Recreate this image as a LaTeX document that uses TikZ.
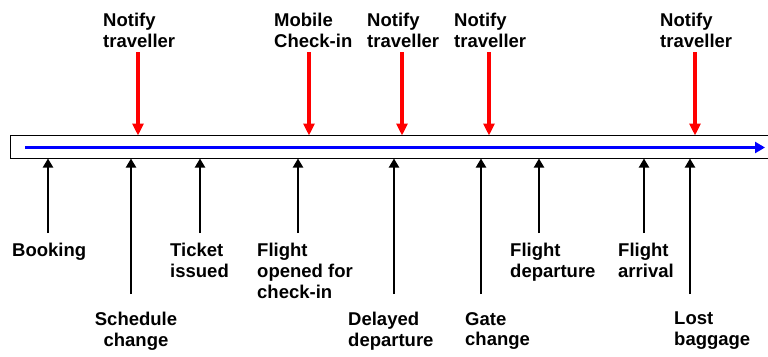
\documentclass[tikz,border=0pt]{standalone}
\usepackage{fontspec}
\setmainfont{Liberation Sans}
\usetikzlibrary{arrows.meta}
\begin{document}
\begin{tikzpicture}[x=1pt,y=-1pt,
  lbl/.style={inner sep=0pt, anchor=north west, align=left,
    font=\bfseries\fontsize{18.5}{20.8}\selectfont},
  notify/.style={draw=red, line width=4.5pt,
    -{Triangle[width=11pt,length=12pt]}},
  event/.style={draw=black, line width=2pt,
    -{Triangle[width=10pt,length=9pt]}},
  timeline/.style={draw=blue, line width=3.2pt,
    -{Triangle[width=11pt,length=10pt]}}]
  \useasboundingbox (0,0) rectangle (768,356);

  % time bar
  \draw[line width=1pt] (10,135) rectangle (780,158);
  \coordinate (tstart) at (25,147.5);
  \coordinate (tend) at (765,147.5);
  \draw[timeline] (tstart) -- (tend);

  % notifications from above
  \node[lbl] (n1) at (103,13) {Notify\\traveller};
  \node[lbl] (n2) at (274,13) {Mobile\\Check-in};
  \node[lbl] (n3) at (367,13) {Notify\\traveller};
  \node[lbl] (n4) at (454,13) {Notify\\traveller};
  \node[lbl] (n5) at (660,13) {Notify\\traveller};
  \foreach \i/\x in {1/138,2/309,3/402,4/489,5/695}{
    \coordinate (ns\i) at (\x,52);
    \coordinate (nt\i) at (\x,135.5);
    \draw[notify] (ns\i) -- (nt\i);
  }

  % events from below
  \node[lbl] (e1) at (12,243) {Booking};
  \node[lbl, anchor=north, align=center] (e2) at (136,312) {Schedule\\change};
  \node[lbl] (e3) at (170,243) {Ticket\\issued};
  \node[lbl] (e4) at (257,243) {Flight\\opened for\\check-in};
  \node[lbl] (e5) at (348,312) {Delayed\\departure};
  \node[lbl] (e6) at (465,312) {Gate\\change};
  \node[lbl] (e7) at (510,243) {Flight\\departure};
  \node[lbl] (e8) at (618,243) {Flight\\arrival};
  \node[lbl] (e9) at (674,312) {Lost\\baggage};
  \foreach \i/\x/\y in {1/48/233,2/131/294,3/200/233,4/298/233,5/394/294,
                        6/481/294,7/539/233,8/644/233,9/690/294}{
    \coordinate (es\i) at (\x,\y);
    \coordinate (et\i) at (\x,158.5);
    \draw[event] (es\i) -- (et\i);
  }
\end{tikzpicture}
\end{document}
